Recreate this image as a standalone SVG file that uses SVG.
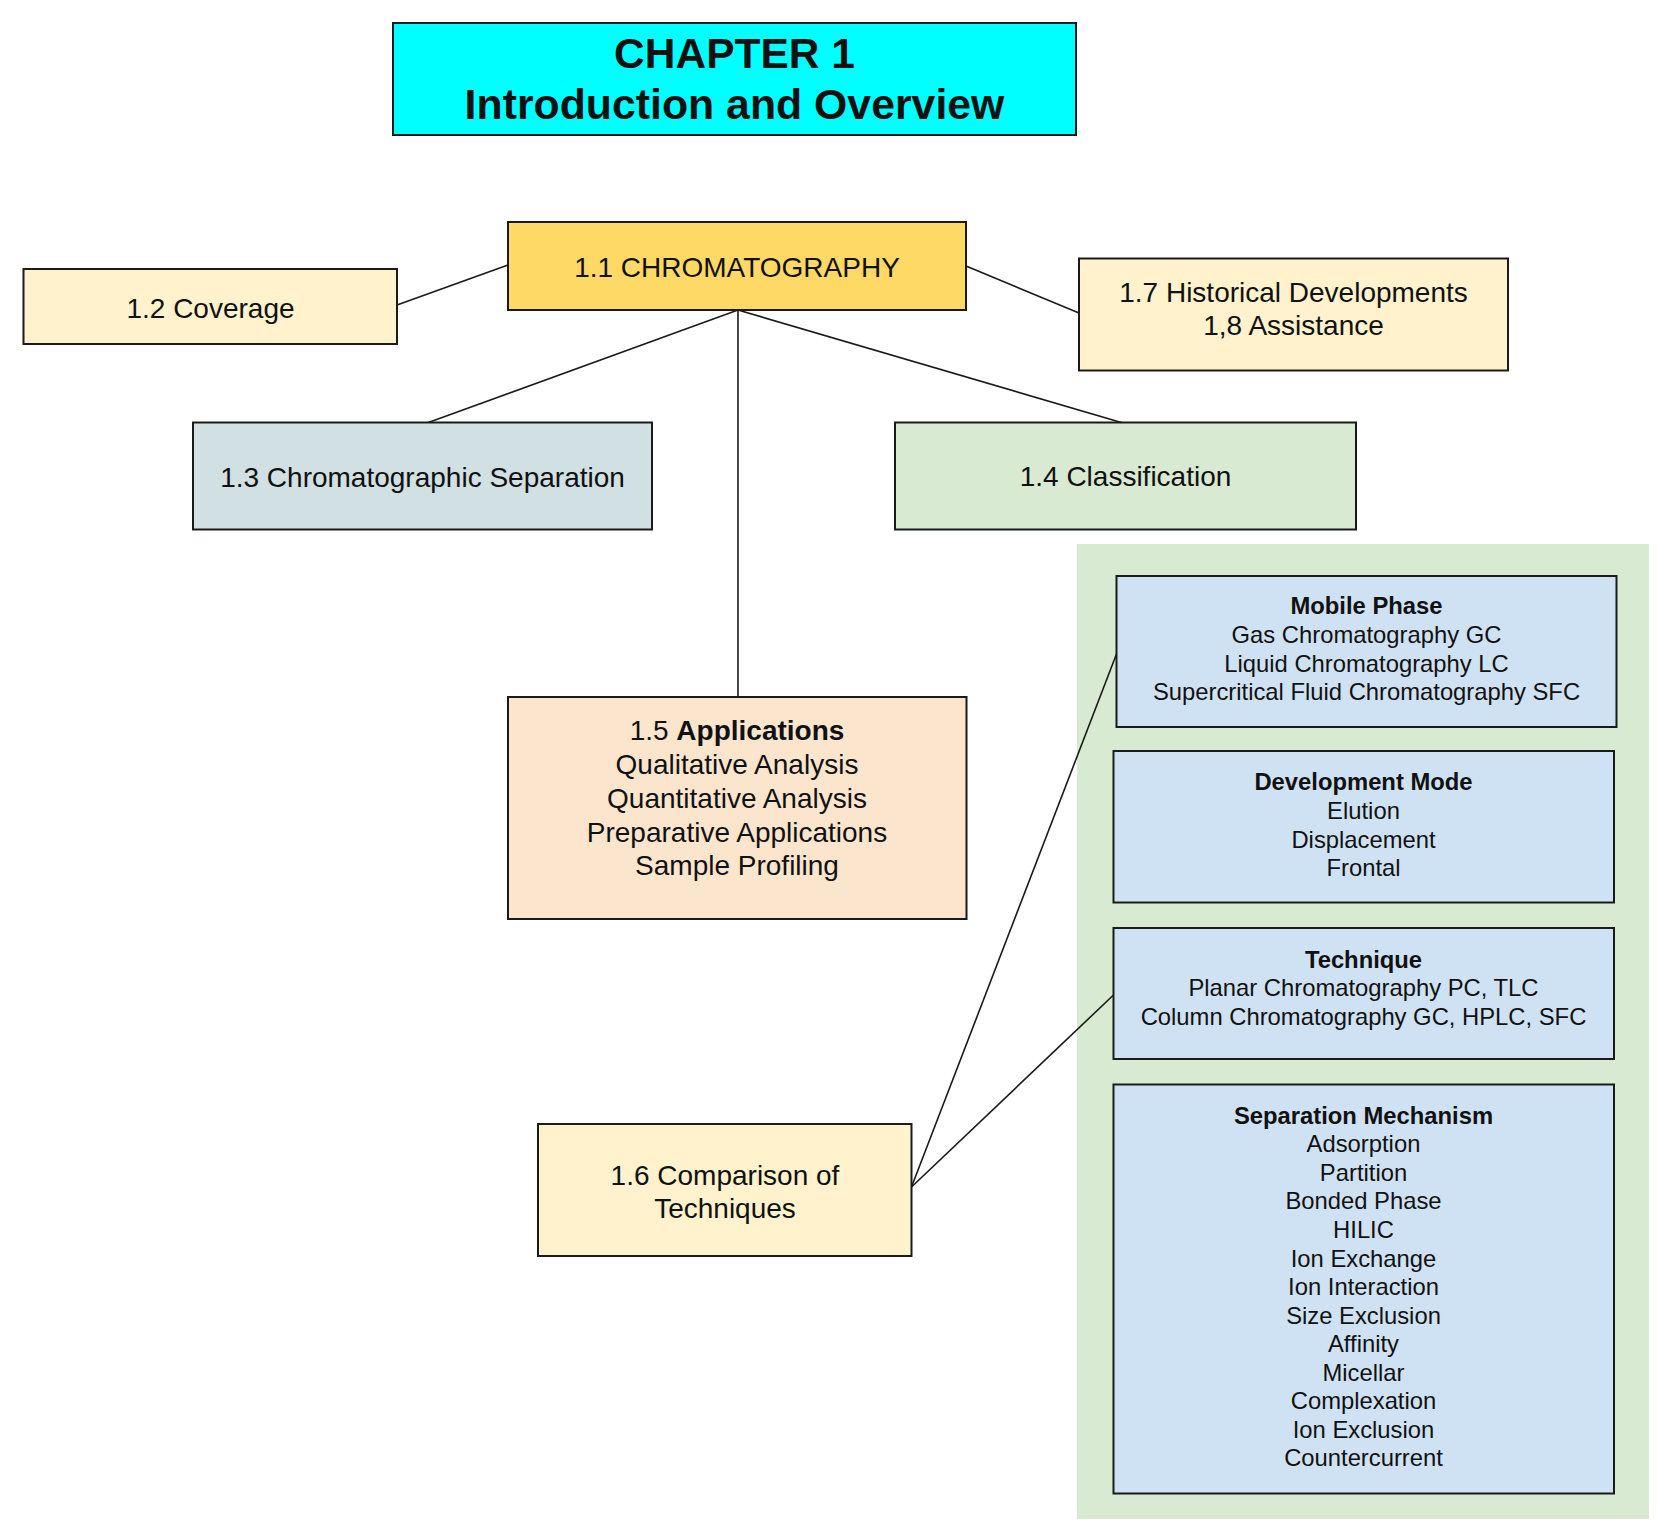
<svg xmlns="http://www.w3.org/2000/svg" width="1657" height="1532" viewBox="0 0 1657 1532">
<style>
.box{stroke:#1a1a1a;stroke-width:2}
.t{font-family:"Liberation Sans",Arial,sans-serif;fill:#111;text-anchor:middle}
.t28{font-size:28px}
.t23{font-size:23.8px}
.b{font-weight:bold}
.conn line{stroke:#1a1a1a;stroke-width:1.6;fill:none}
</style>
<rect width="1657" height="1532" fill="#ffffff"/>

<g id="title">
<rect class="box" x="393" y="23" width="683" height="112" fill="#00FFFF"/>
<text class="t b" font-size="42.5" x="734.5" y="68">CHAPTER 1</text>
<text class="t b" font-size="42.8" x="734.5" y="119">Introduction and Overview</text>
</g>

<g id="classification-panel">
<rect x="1077" y="544" width="572" height="975" fill="#D9EAD3"/>
</g>

<g class="conn" id="connectors">
<line x1="397" y1="305" x2="508" y2="265"/>
<line x1="966" y1="266" x2="1079" y2="313"/>
<line x1="738" y1="310" x2="427" y2="423"/>
<line x1="738" y1="310" x2="1123" y2="423"/>
<line x1="738" y1="310" x2="738" y2="697"/>
<line x1="911.5" y1="1187" x2="1116.5" y2="654"/>
<line x1="911.5" y1="1187" x2="1113.5" y2="995"/>
</g>

<g id="n1-1">
<rect class="box" x="508" y="222" width="458" height="88" fill="#FFD966"/>
<text class="t t28" x="737" y="276.5">1.1 CHROMATOGRAPHY</text>
</g>

<g id="n1-2">
<rect class="box" x="23.5" y="269" width="373.5" height="75" fill="#FFF2CC"/>
<text class="t t28" x="210.5" y="317.5">1.2 Coverage</text>
</g>

<g id="n1-7">
<rect class="box" x="1079" y="258.5" width="429" height="112" fill="#FFF2CC"/>
<text class="t t28" x="1293.5" y="301.5">1.7 Historical Developments</text>
<text class="t t28" x="1293.5" y="335">1,8 Assistance</text>
</g>

<g id="n1-3">
<rect class="box" x="193" y="422.5" width="459" height="107" fill="#D0E0E3"/>
<text class="t t28" x="422.5" y="486.5">1.3 Chromatographic Separation</text>
</g>

<g id="n1-4">
<rect class="box" x="895" y="422.5" width="461" height="107" fill="#D9EAD3"/>
<text class="t t28" x="1125.5" y="486">1.4 Classification</text>
</g>

<g id="n1-5">
<rect class="box" x="508" y="697" width="458.5" height="222" fill="#FCE5CD"/>
<text class="t t28" x="737" y="740">1.5 <tspan class="b">Applications</tspan></text>
<text class="t t28" x="737" y="774">Qualitative Analysis</text>
<text class="t t28" x="737" y="807.8">Quantitative Analysis</text>
<text class="t t28" x="737" y="841.6">Preparative Applications</text>
<text class="t t28" x="737" y="875.2">Sample Profiling</text>
</g>

<g id="n1-6">
<rect class="box" x="538" y="1124" width="373.5" height="132" fill="#FFF2CC"/>
<text class="t t28" x="725" y="1185">1.6 Comparison of</text>
<text class="t t28" x="725" y="1218">Techniques</text>
</g>

<g id="mobile-phase">
<rect class="box" x="1116.5" y="576" width="500" height="151" fill="#CFE2F3"/>
<text class="t t23 b" x="1366.5" y="614.3">Mobile Phase</text>
<text class="t t23" x="1366.5" y="643">Gas Chromatography GC</text>
<text class="t t23" x="1366.5" y="671.5">Liquid Chromatography LC</text>
<text class="t t23" x="1366.5" y="700">Supercritical Fluid Chromatography SFC</text>
</g>

<g id="development-mode">
<rect class="box" x="1113.5" y="751" width="500.5" height="151.5" fill="#CFE2F3"/>
<text class="t t23 b" x="1363.5" y="790">Development Mode</text>
<text class="t t23" x="1363.5" y="819">Elution</text>
<text class="t t23" x="1363.5" y="847.5">Displacement</text>
<text class="t t23" x="1363.5" y="876">Frontal</text>
</g>

<g id="technique">
<rect class="box" x="1113.5" y="928" width="500.5" height="131" fill="#CFE2F3"/>
<text class="t t23 b" x="1363.5" y="968">Technique</text>
<text class="t t23" x="1363.5" y="996.3">Planar Chromatography PC, TLC</text>
<text class="t t23" x="1363.5" y="1024.6">Column Chromatography GC, HPLC, SFC</text>
</g>

<g id="separation-mechanism">
<rect class="box" x="1113.5" y="1084.5" width="500.5" height="409" fill="#CFE2F3"/>
<text class="t t23 b" x="1363.5" y="1123.7">Separation Mechanism</text>
<text class="t t23" x="1363.5" y="1152.3">Adsorption</text>
<text class="t t23" x="1363.5" y="1180.8">Partition</text>
<text class="t t23" x="1363.5" y="1209.4">Bonded Phase</text>
<text class="t t23" x="1363.5" y="1237.9">HILIC</text>
<text class="t t23" x="1363.5" y="1266.5">Ion Exchange</text>
<text class="t t23" x="1363.5" y="1295">Ion Interaction</text>
<text class="t t23" x="1363.5" y="1323.6">Size Exclusion</text>
<text class="t t23" x="1363.5" y="1352.2">Affinity</text>
<text class="t t23" x="1363.5" y="1380.7">Micellar</text>
<text class="t t23" x="1363.5" y="1409.3">Complexation</text>
<text class="t t23" x="1363.5" y="1437.8">Ion Exclusion</text>
<text class="t t23" x="1363.5" y="1466.4">Countercurrent</text>
</g>
</svg>
